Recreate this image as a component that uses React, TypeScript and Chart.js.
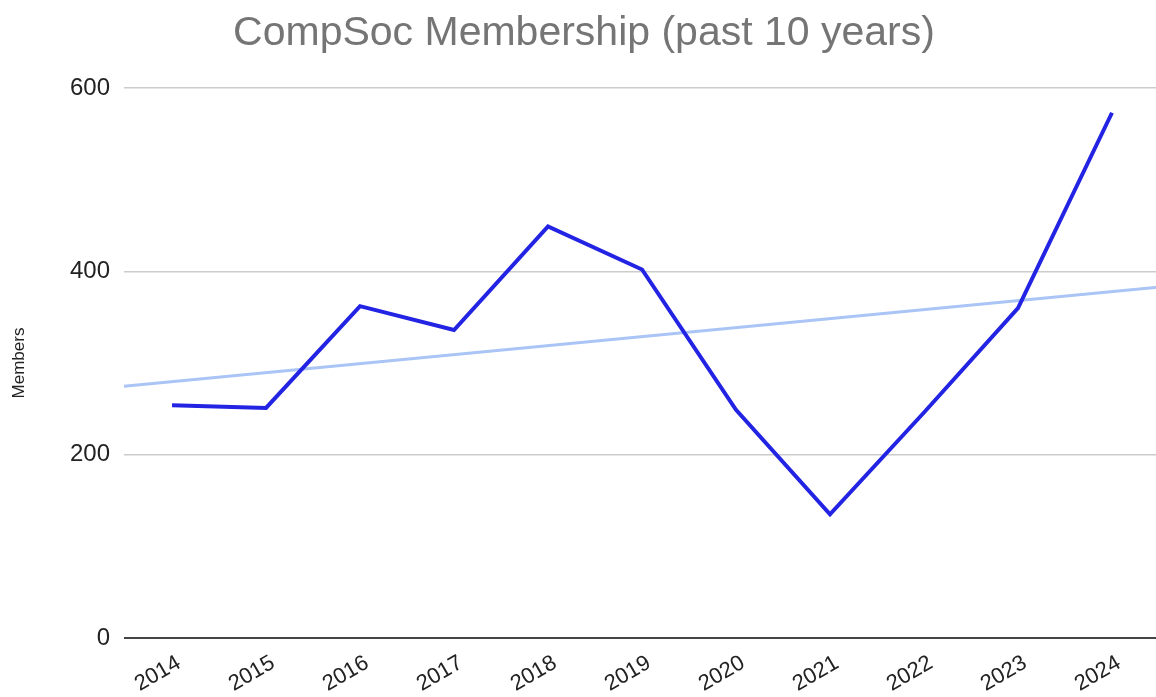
import React, { useEffect, useRef } from "react";
import { Chart, registerables } from "chart.js";

Chart.register(...registerables);

const years: number[] = [2014, 2015, 2016, 2017, 2018, 2019, 2020, 2021, 2022, 2023, 2024];
const members: number[] = [254, 251, 362, 336, 449, 402, 249, 135, 246, 360, 573];
const yTicks: number[] = [0, 200, 400, 600];

const X_MIN = 2013.489;
const X_MAX = 2024.596;

function trendPoints() {
  const n = years.length;
  const mx = years.reduce((a, b) => a + b, 0) / n;
  const my = members.reduce((a, b) => a + b, 0) / n;
  let sxy = 0;
  let sxx = 0;
  for (let i = 0; i < n; i++) {
    sxy += (years[i] - mx) * (members[i] - my);
    sxx += (years[i] - mx) * (years[i] - mx);
  }
  const slope = sxy / sxx;
  const f = (x: number) => my + slope * (x - mx);
  return [
    { x: X_MIN, y: f(X_MIN) },
    { x: X_MAX, y: f(X_MAX) },
  ];
}

export default function App() {
  const ref = useRef<HTMLCanvasElement | null>(null);

  useEffect(() => {
    document.body.style.margin = "0";
    const canvas = ref.current;
    if (!canvas) return;
    const font = "'Liberation Sans', Arial, Helvetica, sans-serif";
    const chart = new Chart(canvas, {
      type: "line",
      data: {
        datasets: [
          {
            label: "Trendline",
            data: trendPoints(),
            borderColor: "#a9c4f5",
            borderWidth: 3,
            pointRadius: 0,
            fill: false,
            order: 2,
          },
          {
            label: "Members",
            data: years.map((y, i) => ({ x: y, y: members[i] })),
            borderColor: "#2323e4",
            borderWidth: 4,
            pointRadius: 0,
            fill: false,
            tension: 0,
            order: 1,
          },
        ],
      },
      options: {
        responsive: false,
        animation: false,
        layout: { padding: 0 },
        plugins: {
          legend: { display: false },
          tooltip: { enabled: false },
          title: {
            display: true,
            text: "CompSoc Membership (past 10 years)",
            color: "#757575",
            font: { family: font, size: 41, weight: "normal" },
            padding: { top: 9, bottom: 29.8 },
          },
        },
        scales: {
          x: {
            type: "linear",
            min: X_MIN,
            max: X_MAX,
            afterFit: (s: any) => {
              s.height = 59;
            },
            afterBuildTicks: (s: any) => {
              s.ticks = years.map((v) => ({ value: v }));
            },
            ticks: {
              autoSkip: false,
              includeBounds: false,
              minRotation: 30,
              maxRotation: 30,
              padding: 12,
              labelOffset: 7,
              color: "#222222",
              font: { family: font, size: 22 },
              callback: (v: any) => String(v),
            },
            grid: { display: false, drawTicks: false },
            border: { display: false },
          },
          y: {
            min: 0,
            max: 600,
            afterFit: (s: any) => {
              s.width = 124;
            },
            afterBuildTicks: (s: any) => {
              s.ticks = yTicks.map((v) => ({ value: v }));
            },
            ticks: {
              padding: 14,
              color: "#222222",
              font: { family: font, size: 24 },
              callback: (v: any) => String(v),
            },
            grid: {
              drawTicks: false,
              color: (ctx: any) => (ctx.tick && ctx.tick.value === 0 ? "#444444" : "#cccccc"),
              lineWidth: (ctx: any) => (ctx.tick && ctx.tick.value === 0 ? 2 : 1.5),
            },
            border: { display: false },
            title: {
              display: true,
              text: "Members",
              color: "#222222",
              font: { family: font, size: 17 },
              padding: { top: 9, bottom: 0 },
            },
          },
        },
      },
    });
    return () => chart.destroy();
  }, []);

  return (
    <div
      style={{
        position: "absolute",
        left: 0,
        top: 0,
        width: 1156,
        height: 697,
        overflow: "hidden",
        background: "#ffffff",
      }}
    >
      <canvas ref={ref} width={1168} height={697} style={{ display: "block" }} />
    </div>
  );
}
